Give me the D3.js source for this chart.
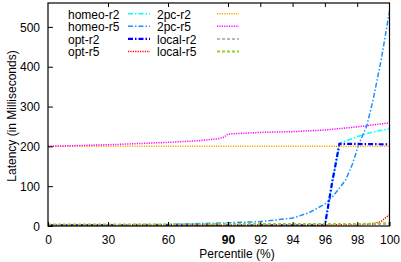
<!DOCTYPE html>
<html>
<head>
<meta charset="utf-8">
<script src="https://cdn.jsdelivr.net/npm/d3@7"></script>
<style>
  body { margin: 0; background: #fff; }
  svg { display: block; font-family: "Liberation Sans", Arial, sans-serif; }
</style>
</head>
<body>
<svg id="chart" width="401" height="262"></svg>
<script>
// tick labels
const xTicks = [0, 30, 60, 90, 92, 94, 96, 98, 100]
const yTicks = [0, 100, 200, 300, 400, 500]

// series (percentile, latency ms)
const homeoR2X = [0, 30, 60, 90, 94, 96, 96.9, 97.2, 98.4, 99.2, 100]
const homeoR2Y = [3, 3, 3, 3, 3, 4, 207, 212, 230, 238, 244]

const homeoR5X = [0, 30, 60, 90, 92, 94, 95, 96, 96.5, 97, 97.3, 97.7, 98.1, 98.6, 99, 99.5, 100]
const homeoR5Y = [3, 3, 4, 8, 11, 20, 33, 55, 75, 100, 117, 155, 205, 252, 320, 420, 540]

const optR2X = [0, 30, 60, 90, 95, 96, 96.45, 96.9, 98, 100]
const optR2Y = [1, 1, 1, 1, 1, 1, 110, 206, 206, 205]

const optR5X = [0, 30, 60, 90, 98, 99, 99.5, 100]
const optR5Y = [2, 2, 2, 2, 3, 5, 12, 28]

const pc2R2X = [0, 100]
const pc2R2Y = [200, 200]

const pc2R5X = [0, 30, 60, 75, 85, 88, 90, 92, 94, 96, 98, 100]
const pc2R5Y = [200, 204, 210, 214, 219, 223, 231, 235, 237, 241, 249, 259]

const localR2X = [0, 30, 60, 90, 98, 100]
const localR2Y = [3, 3, 3, 3, 4, 5]

const localR5X = [0, 30, 60, 90, 98, 100]
const localR5Y = [4, 4, 4, 5, 5, 7]

const seriesNames = ["homeo-r2", "homeo-r5", "opt-r2", "opt-r5", "2pc-r2", "2pc-r5", "local-r2", "local-r5"]

const series = [
  { xs: homeoR2X, ys: homeoR2Y, color: "#00ffff", dash: "5,2,1.5,2", width: 1.5 },
  { xs: homeoR5X, ys: homeoR5Y, color: "#1e90ff", dash: "5,2,1.5,2", width: 1.5 },
  { xs: optR2X, ys: optR2Y, color: "#0000ff", dash: "5,2,1.5,2", width: 2.2 },
  { xs: optR5X, ys: optR5Y, color: "#ff0000", dash: "1.2,1.2", width: 1.5 },
  { xs: pc2R2X, ys: pc2R2Y, color: "#ffa500", dash: "1.2,1.2", width: 1.5 },
  { xs: pc2R5X, ys: pc2R5Y, color: "#ff00ff", dash: "1.2,1.2", width: 1.5 },
  { xs: localR2X, ys: localR2Y, color: "#a0a0a0", dash: "3,2", width: 1.5 },
  { xs: localR5X, ys: localR5Y, color: "#9acd32", dash: "3,2", width: 2 }
]

const plot = { left: 48, right: 389.5, top: 3, bottom: 226 }
const fontSize = 12

const svg = d3.select("#chart")

// broken x axis: 0-90 on the left part, 90-100 stretched on the right
const x = d3.scaleLinear().domain([0, 90, 100]).range([plot.left, 228, plot.right])
const y = d3.scaleLinear().domain([0, 560]).range([plot.bottom, plot.top])

const line = d3.line()
  .x(d => x(d[0]))
  .y(d => y(d[1]))

svg.append("defs").append("clipPath").attr("id", "clip")
  .append("rect")
  .attr("x", plot.left).attr("y", plot.top)
  .attr("width", plot.right - plot.left).attr("height", plot.bottom - plot.top)

// curves
const curves = svg.append("g").attr("clip-path", "url(#clip)")
series.forEach(s => {
  curves.append("path")
    .datum(s.xs.map((v, i) => [v, s.ys[i]]))
    .attr("d", line)
    .attr("fill", "none")
    .attr("stroke", s.color)
    .attr("stroke-width", s.width)
    .attr("stroke-dasharray", s.dash)
})

// axes (ticks point inward, gnuplot style)
const bottomAxis = d3.axisBottom(x).tickValues(xTicks).tickSize(-4).tickPadding(10)
  .tickFormat(d3.format("d"))
const topAxis = d3.axisTop(x).tickValues(xTicks.slice(1, -1)).tickSize(-4).tickFormat("")
const leftAxis = d3.axisLeft(y).tickValues(yTicks).tickSize(-5).tickPadding(8)

const gx = svg.append("g").attr("transform", `translate(0,${plot.bottom})`).call(bottomAxis)
const gx2 = svg.append("g").attr("transform", `translate(0,${plot.top})`).call(topAxis)
const gy = svg.append("g").attr("transform", `translate(${plot.left},0)`).call(leftAxis)

;[gx, gx2, gy].forEach(g => {
  g.select(".domain").remove()
  g.selectAll(".tick line").attr("stroke", "#000").attr("stroke-width", 1)
  g.selectAll("text").attr("font-family", null).attr("font-size", fontSize).attr("fill", "#000")
})
gx.selectAll("text").attr("dy", null).attr("y", 18)
gx.selectAll(".tick text").filter(d => d === 90).attr("font-weight", "bold")
gy.selectAll("text").attr("dy", "0.35em")

// frame
svg.append("rect")
  .attr("x", plot.left).attr("y", plot.top)
  .attr("width", plot.right - plot.left).attr("height", plot.bottom - plot.top)
  .attr("fill", "none").attr("stroke", "#000").attr("stroke-width", 1.2)

// axis titles
svg.append("text")
  .attr("x", 237).attr("y", 258)
  .attr("text-anchor", "middle").attr("font-size", fontSize)
  .text("Percentile (%)")

svg.append("text")
  .attr("transform", "translate(16,116) rotate(-90)")
  .attr("text-anchor", "middle").attr("font-size", fontSize)
  .text("Latency (in Milliseconds)")

// legend: two columns of four
const legend = svg.append("g")
series.forEach((s, i) => {
  const col = Math.floor(i / 4)
  const row = i % 4
  const tx = col === 0 ? 68 : 157
  const lx = col === 0 ? 128 : 217
  const by = 18.5 + row * 12.6
  legend.append("text")
    .attr("x", tx).attr("y", by)
    .attr("font-size", fontSize)
    .text(seriesNames[i])
  legend.append("line")
    .attr("x1", lx).attr("x2", lx + 22)
    .attr("y1", by - 4.8).attr("y2", by - 4.8)
    .attr("stroke", s.color)
    .attr("stroke-width", s.width)
    .attr("stroke-dasharray", s.dash)
})
</script>
</body>
</html>
